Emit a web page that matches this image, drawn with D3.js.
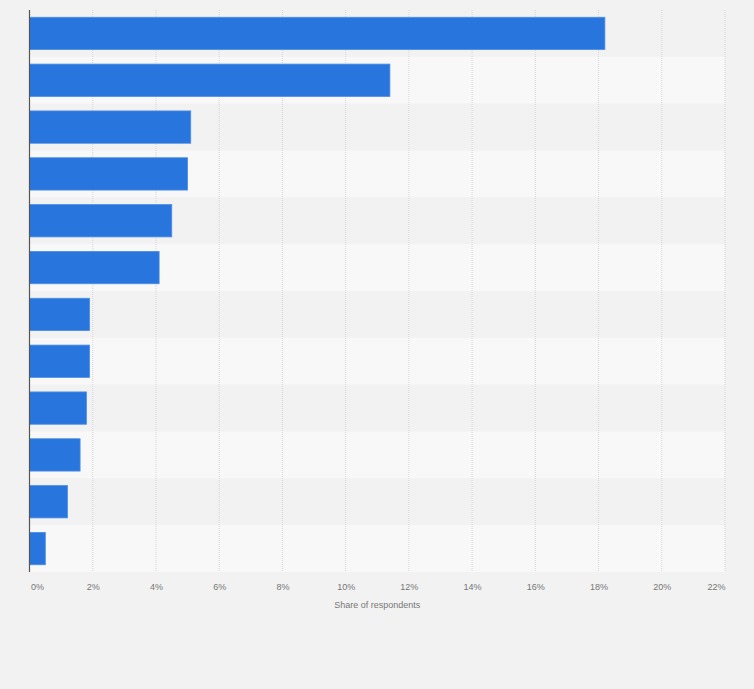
<!DOCTYPE html>
<html>
<head>
<meta charset="utf-8">
<script src="https://cdn.jsdelivr.net/npm/d3@7"></script>
<style>
  html, body { margin: 0; padding: 0; background: #f2f2f2; }
  svg { display: block; font-family: "Liberation Sans", Arial, sans-serif; }
</style>
</head>
<body>
<svg id="chart" width="754" height="689"></svg>
<script>
const categories = ["A", "B", "C", "D", "E", "F", "G", "H", "I", "J", "K", "L"];
const values = [18.2, 11.4, 5.1, 5.0, 4.5, 4.1, 1.9, 1.9, 1.8, 1.6, 1.2, 0.5];
const tickValues = [0, 2, 4, 6, 8, 10, 12, 14, 16, 18, 20, 22];
const axisTitle = "Share of respondents";

const svg = d3.select("#chart");
const margin = { top: 10, left: 29.5, right: 29, bottom: 117 };
const W = 754, H = 689;
const x = d3.scaleLinear().domain([0, 22]).range([margin.left, W - margin.right]);
const y = d3.scaleBand().domain(categories).range([margin.top, H - margin.bottom]).paddingInner(0.31).paddingOuter(0.155);
const band = d3.scaleBand().domain(categories).range([margin.top, H - margin.bottom]);

// alternating row bands
svg.append("g").selectAll("rect").data(categories).join("rect")
  .attr("x", x(0)).attr("width", x(22) - x(0))
  .attr("y", d => band(d)).attr("height", band.bandwidth())
  .attr("fill", (d, i) => i % 2 === 0 ? "#f2f2f2" : "#f8f8f8");

// gridlines
svg.append("g").selectAll("line").data(tickValues.slice(1)).join("line")
  .attr("x1", d => x(d)).attr("x2", d => x(d))
  .attr("y1", margin.top).attr("y2", H - margin.bottom)
  .attr("stroke", "#d6d6d6").attr("stroke-width", 1)
  .attr("stroke-dasharray", "1,1");

// bars
svg.append("g").selectAll("rect").data(values).join("rect")
  .attr("x", x(0))
  .attr("y", (d, i) => y(categories[i]))
  .attr("width", d => x(d) - x(0))
  .attr("height", y.bandwidth())
  .attr("fill", "#2876dd")
  .attr("stroke", "#4a8ce6").attr("stroke-width", 0.8);

// left axis line
svg.append("line")
  .attr("x1", x(0)).attr("x2", x(0))
  .attr("y1", margin.top).attr("y2", H - margin.bottom)
  .attr("stroke", "#555").attr("stroke-width", 1.2);

// x axis tick labels
const xAxis = d3.axisBottom(x).tickValues(tickValues).tickFormat(d => d + "%").tickSize(0).tickPadding(0);
const gx = svg.append("g").attr("transform", `translate(0, ${H - margin.bottom + 18})`).call(xAxis);
gx.select(".domain").remove();
gx.selectAll("text").attr("fill", "#777").attr("font-size", "9px").attr("dy", 0)
  .attr("font-family", "'Liberation Sans', Arial, sans-serif");
const ticks = gx.selectAll(".tick");
ticks.filter(d => d === tickValues[0]).select("text").attr("text-anchor", "start").attr("x", 1);
ticks.filter(d => d === tickValues[tickValues.length - 1]).select("text").attr("text-anchor", "end").attr("x", 0);

svg.append("text")
  .attr("x", (x(0) + x(22)) / 2).attr("y", 608)
  .attr("text-anchor", "middle").attr("fill", "#777").attr("font-size", "9px")
  .text(axisTitle);
</script>
</body>
</html>
